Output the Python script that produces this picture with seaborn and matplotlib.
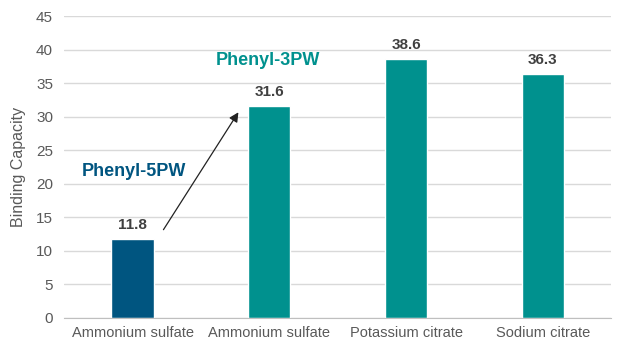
import pandas as pd
import numpy as np
import matplotlib.pyplot as plt
import seaborn as sns

# data
salts = ["Ammonium sulfate", "Ammonium sulfate", "Potassium citrate", "Sodium citrate"]
columns = ["Phenyl-5PW", "Phenyl-3PW", "Phenyl-3PW", "Phenyl-3PW"]
capacity = [11.8, 31.6, 38.6, 36.3]

df = pd.DataFrame({"pos": range(len(salts)), "salt": salts,
                   "column": columns, "capacity": capacity})

sns.set_style("white")
plt.rcParams['font.family'] = ['Liberation Sans', 'DejaVu Sans']

blue = "#005580"
teal = "#00918E"

fig = plt.figure(figsize=(6.23, 3.56), dpi=100)
ax = fig.add_axes([0.103, 0.107, 0.878, 0.848])

sns.barplot(data=df, x="pos", y="capacity", hue="column",
            palette={"Phenyl-5PW": blue, "Phenyl-3PW": teal},
            dodge=False, width=0.31, legend=False, ax=ax, saturation=1)

for c in ax.containers:
    ax.bar_label(c, fmt="%.1f", padding=5, fontsize=11, fontweight="bold", color="#404040")

ax.set_ylim(0, 45)
ax.set_yticks(np.arange(0, 46, 5))
ax.set_xlim(-0.5, len(salts) - 0.5)
ax.set_xticks(range(len(salts)))
ax.set_xticklabels(salts)
ax.set_xticks(np.arange(-0.5, len(salts), 1), minor=True)
ax.tick_params(axis="x", which="major", length=0, pad=6, labelsize=10.5, labelcolor="#595959")
ax.tick_params(axis="x", which="minor", length=4, color="#BFBFBF", direction="out")
ax.tick_params(axis="y", length=0, labelsize=11, labelcolor="#595959", pad=8)

ax.yaxis.grid(True, color="#D9D9D9", lw=1)
ax.set_axisbelow(True)
for s in ["top", "right", "left"]:
    ax.spines[s].set_visible(False)
ax.spines["bottom"].set_color("#BFBFBF")

ax.set_xlabel("")
ax.set_ylabel("Binding Capacity", fontsize=11.5, color="#595959", labelpad=7)

ax.text(0.01, 21.8, "Phenyl-5PW", color=blue, fontsize=13, fontweight="bold", ha="center", va="center")
ax.text(0.99, 38.4, "Phenyl-3PW", color=teal, fontsize=13, fontweight="bold", ha="center", va="center")
ax.annotate("", xy=(0.785, 31.0), xytext=(0.215, 12.8),
            arrowprops=dict(arrowstyle="-|>", color="#222222", lw=0.9, mutation_scale=14))

fig.savefig("out.png", dpi=100)
